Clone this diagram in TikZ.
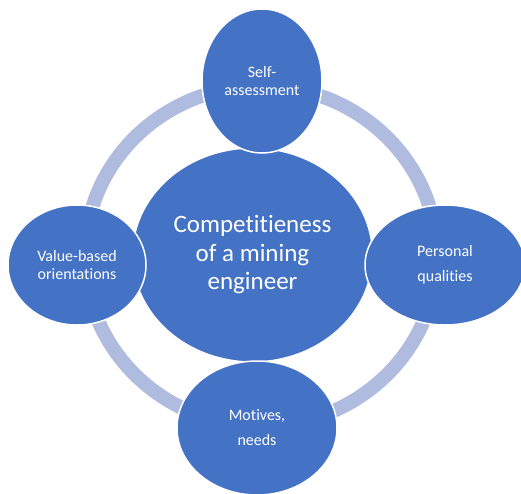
\documentclass[tikz,border=0pt]{standalone}
\usepackage{fontspec}
\setmainfont[Ligatures=NoCommon]{Carlito}
\usetikzlibrary{shapes.geometric}
\definecolor{bubble}{HTML}{4472C4}
\definecolor{ringc}{HTML}{AFBCE0}
\tikzset{
  bubble/.style={ellipse, fill=bubble, draw=white, line width=1.5pt, inner sep=0pt,
    text=white, align=center},
  smalltext/.style={font=\fontsize{16}{18}\selectfont},
  widetext/.style={font=\fontsize{16}{25}\selectfont},
  bigtext/.style={font=\fontsize{25}{28.5}\selectfont},
  ringline/.style={draw=ringc, line width=14pt}
}
\begin{document}
\begin{tikzpicture}[x=1pt, y=-1pt]
\clip (0,0) rectangle (521,493);
\fill[white] (0,0) rectangle (521,493);
\coordinate (rc) at (261,256);
\draw[ringline] (rc) ellipse [x radius=176, y radius=170];
\node[bubble, bigtext, minimum width=240pt, minimum height=214pt] (core) at (252.5,255)
  {Competitieness\\of a mining\\engineer};
\node[bubble, smalltext, minimum width=138pt, minimum height=120pt] (value) at (77,265)
  {Value-based\\orientations};
\node[bubble, smalltext, minimum width=120pt, minimum height=144pt] (self) at (262,81)
  {Self-\\assessment};
\node[bubble, widetext, minimum width=160pt, minimum height=120pt] (pers) at (445,265)
  {Personal\\qualities};
\node[bubble, widetext, minimum width=160pt, minimum height=134pt] (motive) at (257,428)
  {Motives,\\needs};
\end{tikzpicture}
\end{document}
